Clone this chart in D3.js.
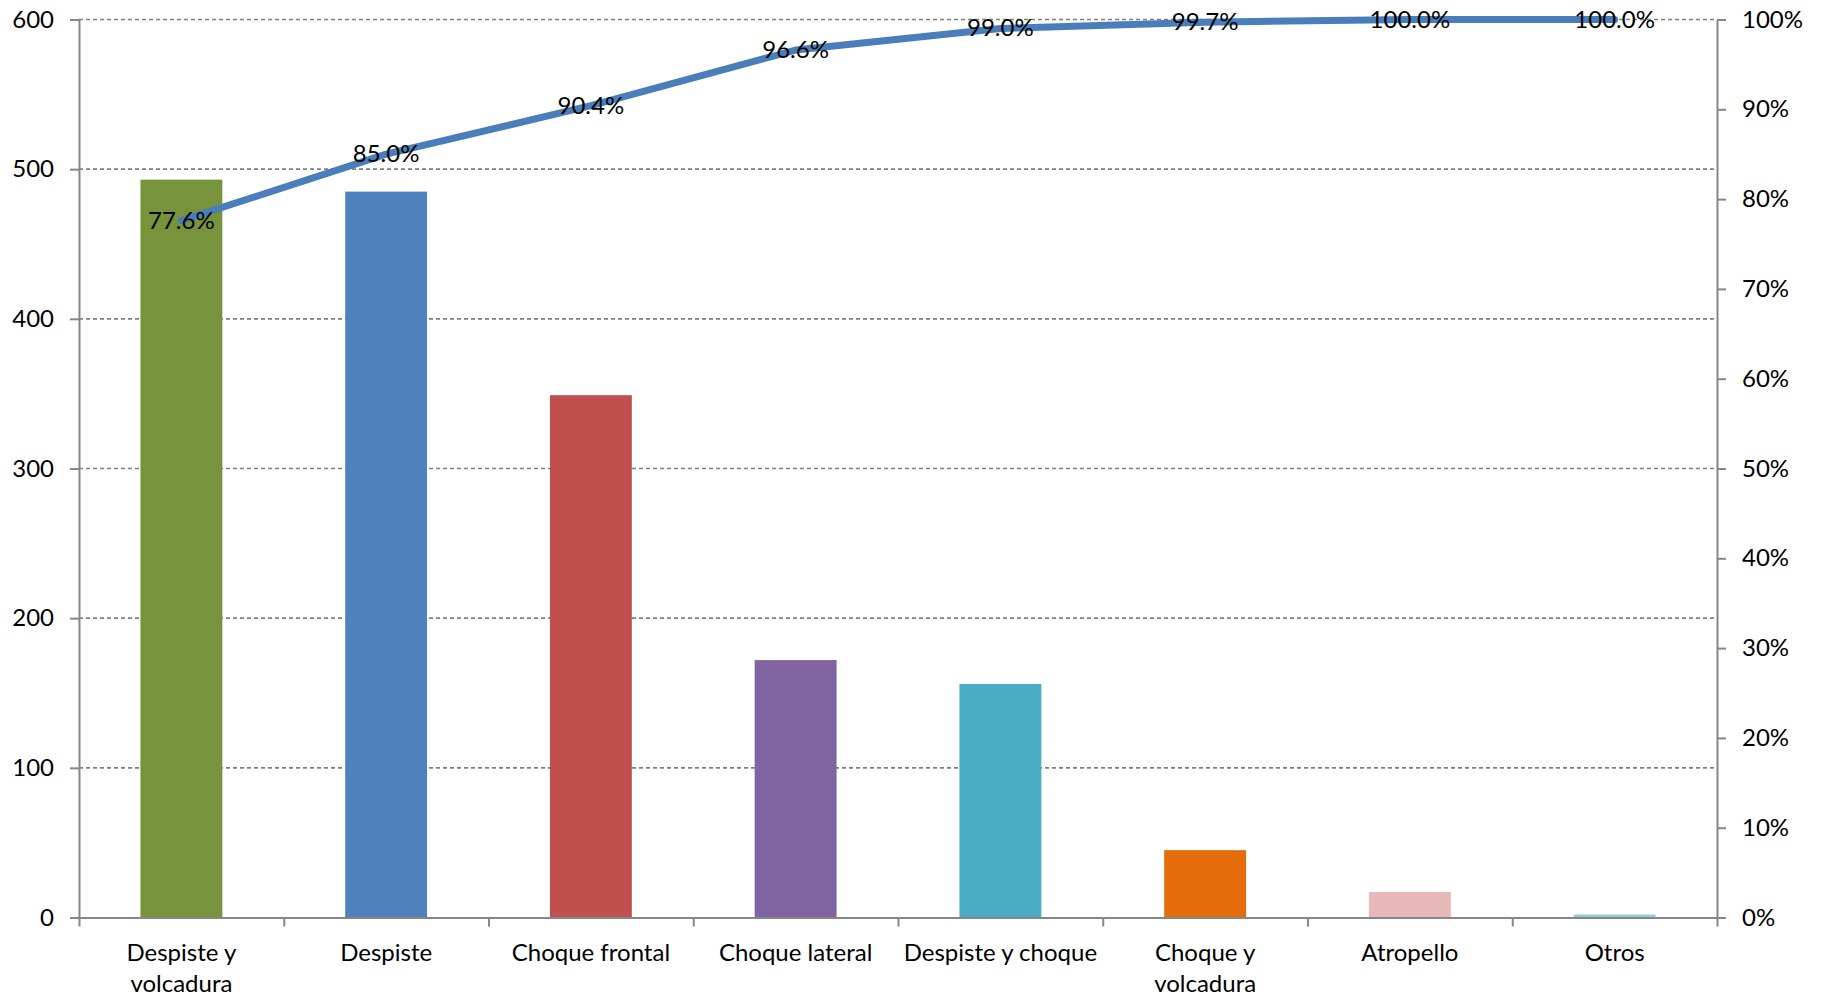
<!DOCTYPE html>
<html>
<head>
<meta charset="utf-8">
<script src="https://cdn.jsdelivr.net/npm/d3@7"></script>
<style>
  body { margin: 0; background: #fff; }
  text { font-family: Lato, "Open Sans", sans-serif; fill: #000; }
</style>
</head>
<body>
<div id="chart"></div>
<script>
// Pareto de tipos de accidente
const categories = ["Despiste y\nvolcadura", "Despiste", "Choque frontal", "Choque lateral",
  "Despiste y choque", "Choque y\nvolcadura", "Atropello", "Otros"];
const counts = [493, 485, 349, 172, 156, 45, 17, 2];
const cumulative = [77.6, 85.0, 90.4, 96.6, 99.0, 99.7, 100.0, 100.0];
const barColors = ["#77933c", "#4f81bd", "#c0504d", "#8064a2", "#4bacc6", "#e46c0a", "#e6b9b8", "#93cddd"];
const leftTicks = [0, 100, 200, 300, 400, 500, 600];
const rightTicks = [0, 10, 20, 30, 40, 50, 60, 70, 80, 90, 100];

const width = 1821, height = 997;
const plotLeft = 79, plotRight = 1717, plotTop = 19.5, plotBottom = 917.5;
const axisColor = "#868686";
const fontSize = 24;

const svg = d3.select("#chart").append("svg")
  .attr("width", width).attr("height", height);

const x = d3.scaleBand().domain(d3.range(categories.length)).range([plotLeft, plotRight]);
const y = d3.scaleLinear().domain([0, 600]).range([plotBottom, plotTop]);
const yPct = d3.scaleLinear().domain([0, 100]).range([plotBottom, plotTop]);

// Gridlines
svg.append("g")
  .selectAll("line")
  .data(leftTicks.filter((d) => d > 0))
  .join("line")
  .attr("x1", plotLeft).attr("x2", plotRight)
  .attr("y1", (d) => y(d)).attr("y2", (d) => y(d))
  .attr("stroke", "#808080")
  .attr("stroke-width", 1.6)
  .attr("stroke-dasharray", "4,3");

// Bars
const barW = x.bandwidth() * 0.4;
svg.append("g")
  .selectAll("rect")
  .data(counts)
  .join("rect")
  .attr("x", (d, i) => x(i) + (x.bandwidth() - barW) / 2)
  .attr("y", (d) => y(d))
  .attr("width", barW)
  .attr("height", (d) => plotBottom - y(d))
  .attr("fill", (d, i) => barColors[i]);

// Axes
function styleAxis(g) {
  g.selectAll("path, line").attr("stroke", axisColor).attr("stroke-width", 2);
  g.selectAll("text").attr("font-size", fontSize).attr("font-family", "Lato, 'Open Sans', sans-serif").attr("fill", "#000");
}

svg.append("g")
  .attr("transform", `translate(${plotLeft},0)`)
  .call(d3.axisLeft(y).tickValues(leftTicks).tickSize(9).tickSizeOuter(0).tickPadding(16))
  .call(styleAxis);

svg.append("g")
  .attr("transform", `translate(${plotRight},0)`)
  .call(d3.axisRight(yPct).tickValues(rightTicks).tickSize(9).tickSizeOuter(0).tickPadding(16)
    .tickFormat((d) => d + "%"))
  .call(styleAxis);

const xEdges = d3.scaleLinear().domain([0, categories.length]).range([plotLeft, plotRight]);
svg.append("g")
  .attr("transform", `translate(0,${plotBottom})`)
  .call(d3.axisBottom(xEdges).tickValues(d3.range(categories.length + 1)).tickSize(9).tickSizeOuter(0).tickFormat(""))
  .call(styleAxis);

// Category labels
const labels = svg.append("g")
  .selectAll("text")
  .data(categories)
  .join("text")
  .attr("text-anchor", "middle")
  .attr("font-size", fontSize)
  .attr("transform", (d, i) => `translate(${x(i) + x.bandwidth() / 2},961)`);
labels.selectAll("tspan")
  .data((d) => d.split("\n"))
  .join("tspan")
  .attr("x", 0)
  .attr("y", (d, i) => i * 31)
  .text((d) => d);

// Cumulative line
const line = d3.line()
  .x((d, i) => x(i) + x.bandwidth() / 2)
  .y((d) => yPct(d));

svg.append("path")
  .datum(cumulative)
  .attr("d", line)
  .attr("fill", "none")
  .attr("stroke", "#4a7ebb")
  .attr("stroke-width", 7)
  .attr("stroke-linecap", "round")
  .attr("stroke-linejoin", "round");

svg.append("g")
  .selectAll("text")
  .data(cumulative)
  .join("text")
  .attr("text-anchor", "middle")
  .attr("font-size", fontSize)
  .attr("x", (d, i) => x(i) + x.bandwidth() / 2)
  .attr("y", (d) => yPct(d) + 8)
  .text((d) => d.toFixed(1) + "%");
</script>
</body>
</html>
